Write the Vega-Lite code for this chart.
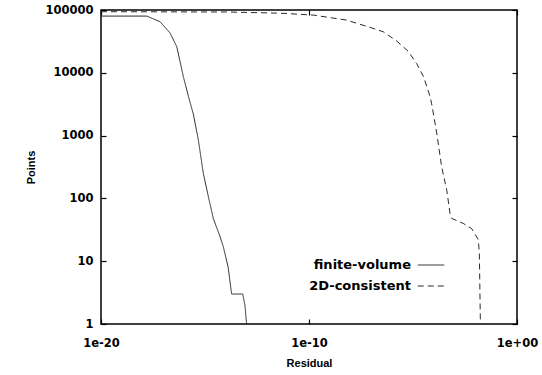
{
  "$schema": "https://vega.github.io/schema/vega-lite/v6.json",
  "width": 416,
  "height": 314,
  "autosize": {"type": "none"},
  "padding": {"left": 101, "top": 10, "right": 25, "bottom": 51},
  "background": "white",
  "config": {
    "view": {"stroke": "black", "strokeWidth": 1.5},
    "axis": {
      "grid": false,
      "domain": false,
      "ticks": true,
      "tickColor": "black",
      "tickSize": -5,
      "tickWidth": 1.2,
      "labelFont": "DejaVu Sans",
      "labelFontWeight": "bold",
      "labelFontSize": 11.5,
      "labelColor": "black",
      "titleFont": "Liberation Sans",
      "titleFontWeight": "bold",
      "titleFontSize": 11,
      "titleColor": "black"
    }
  },
  "data": {
    "values": [
      {"series": "finite-volume", "residual": 1e-20, "points": 80000},
      {"series": "finite-volume", "residual": 1.6e-18, "points": 80000},
      {"series": "finite-volume", "residual": 6.9e-18, "points": 65000},
      {"series": "finite-volume", "residual": 2.1e-17, "points": 43000},
      {"series": "finite-volume", "residual": 4.4e-17, "points": 26000},
      {"series": "finite-volume", "residual": 9.1e-17, "points": 8700},
      {"series": "finite-volume", "residual": 1.6e-16, "points": 4200},
      {"series": "finite-volume", "residual": 2.75e-16, "points": 2200},
      {"series": "finite-volume", "residual": 4.8e-16, "points": 850},
      {"series": "finite-volume", "residual": 8.3e-16, "points": 250},
      {"series": "finite-volume", "residual": 1.45e-15, "points": 107},
      {"series": "finite-volume", "residual": 2.5e-15, "points": 48},
      {"series": "finite-volume", "residual": 5.2e-15, "points": 25},
      {"series": "finite-volume", "residual": 7.6e-15, "points": 17},
      {"series": "finite-volume", "residual": 1.3e-14, "points": 8},
      {"series": "finite-volume", "residual": 1.9e-14, "points": 3},
      {"series": "finite-volume", "residual": 6.5e-14, "points": 3},
      {"series": "finite-volume", "residual": 8.3e-14, "points": 2},
      {"series": "finite-volume", "residual": 1e-13, "points": 1},
      {"series": "2D-consistent", "residual": 1e-20, "points": 94000},
      {"series": "2D-consistent", "residual": 1e-14, "points": 93000},
      {"series": "2D-consistent", "residual": 4.1e-12, "points": 89000},
      {"series": "2D-consistent", "residual": 1.6e-10, "points": 83000},
      {"series": "2D-consistent", "residual": 6.5e-9, "points": 69000},
      {"series": "2D-consistent", "residual": 1.2e-7, "points": 51000},
      {"series": "2D-consistent", "residual": 3.7e-7, "points": 45000},
      {"series": "2D-consistent", "residual": 1.66e-6, "points": 32000},
      {"series": "2D-consistent", "residual": 5.9e-6, "points": 22000},
      {"series": "2D-consistent", "residual": 1.5e-5, "points": 14000},
      {"series": "2D-consistent", "residual": 3.2e-5, "points": 8700},
      {"series": "2D-consistent", "residual": 6.6e-5, "points": 4200},
      {"series": "2D-consistent", "residual": 7.9e-5, "points": 3200},
      {"series": "2D-consistent", "residual": 1.38e-4, "points": 1100},
      {"series": "2D-consistent", "residual": 2.4e-4, "points": 316},
      {"series": "2D-consistent", "residual": 4.2e-4, "points": 135},
      {"series": "2D-consistent", "residual": 6.0e-4, "points": 58},
      {"series": "2D-consistent", "residual": 7.2e-4, "points": 48},
      {"series": "2D-consistent", "residual": 2.6e-3, "points": 40},
      {"series": "2D-consistent", "residual": 6.6e-3, "points": 33},
      {"series": "2D-consistent", "residual": 1.38e-2, "points": 22},
      {"series": "2D-consistent", "residual": 1.55e-2, "points": 13},
      {"series": "2D-consistent", "residual": 1.74e-2, "points": 1}
    ]
  },
  "layer": [
    {
      "mark": {"type": "line", "strokeWidth": 1, "color": "#2a2a2a"},
      "encoding": {
        "x": {
          "field": "residual",
          "type": "quantitative",
          "scale": {"type": "log", "domain": [1e-20, 1], "nice": false},
          "axis": {
            "title": "Residual",
            "values": [1e-20, 1e-10, 1],
            "labelExpr": "datum.value < 1e-15 ? '1e-20' : (datum.value < 1e-5 ? '1e-10' : '1e+00')",
            "labelPadding": 18,
            "titlePadding": 9,
            "labelFlush": false
          }
        },
        "y": {
          "field": "points",
          "type": "quantitative",
          "scale": {"type": "log", "domain": [1, 100000], "nice": false},
          "axis": {
            "title": "Points",
            "values": [1, 10, 100, 1000, 10000, 100000],
            "format": "d",
            "labelPadding": 13,
            "titlePadding": 8
          }
        },
        "strokeDash": {
          "field": "series",
          "type": "nominal",
          "scale": {"domain": ["finite-volume", "2D-consistent"], "range": [[1, 0], [6, 4]]},
          "legend": {
            "title": null,
            "orient": "none",
            "legendX": 316,
            "legendY": 241,
            "symbolType": "stroke",
            "symbolSize": 700,
            "symbolStrokeWidth": 1,
            "symbolStrokeColor": "#2a2a2a",
            "labelAlign": "right",
            "labelOffset": -34,
            "labelFont": "DejaVu Sans",
            "labelFontWeight": "bold",
            "labelFontSize": 13,
            "labelColor": "black",
            "rowPadding": -11
          }
        }
      }
    },
    {
      "mark": {"type": "line", "strokeOpacity": 0},
      "encoding": {
        "x": {
          "field": "residual",
          "type": "quantitative",
          "scale": {"type": "log", "domain": [1e-20, 1], "nice": false},
          "axis": {"orient": "top", "title": null, "labels": false, "values": [1e-20, 1e-10, 1]}
        },
        "y": {
          "field": "points",
          "type": "quantitative",
          "scale": {"type": "log", "domain": [1, 100000], "nice": false},
          "axis": {"orient": "right", "title": null, "labels": false, "values": [1, 10, 100, 1000, 10000, 100000]}
        },
        "detail": {"field": "series", "type": "nominal"}
      }
    }
  ],
  "resolve": {"axis": {"x": "independent", "y": "independent"}}
}
